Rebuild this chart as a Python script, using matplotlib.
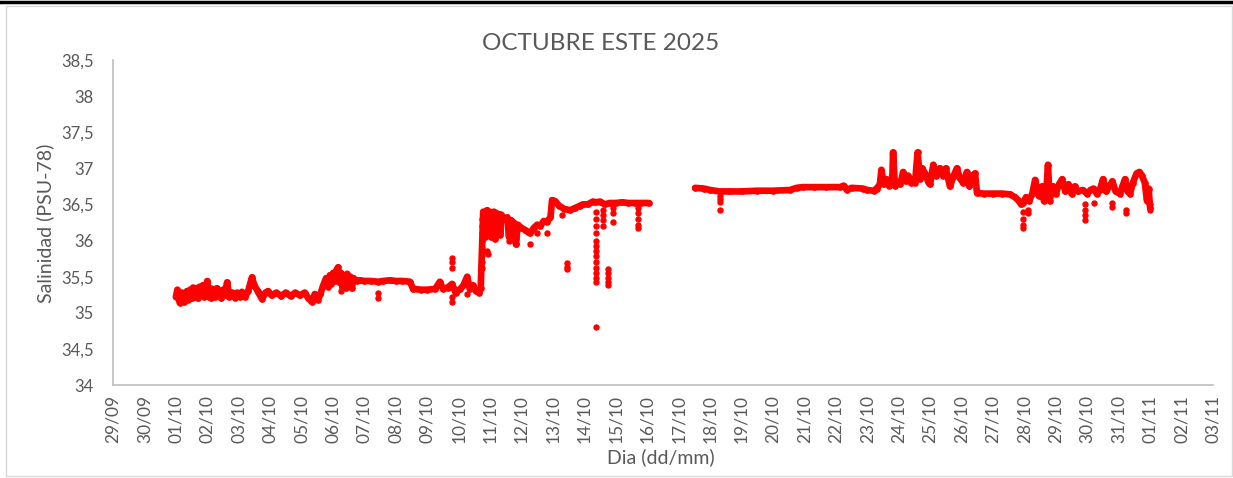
import numpy as np
import pandas as pd
import matplotlib
matplotlib.use("Agg")
import matplotlib.pyplot as plt
import matplotlib.dates as mdates
from matplotlib.ticker import FuncFormatter, MultipleLocator
from matplotlib.lines import Line2D

plt.rcParams['font.family'] = ['Lato', 'DejaVu Sans']

# days counted from 01/10/2025 00:00
inicio = pd.Timestamp('2025-10-01')

# first block of records (01/10 - 16/10)
dia_1 = [0.00, 0.05, 0.12, 0.20, 0.25, 0.30, 0.35, 0.40, 0.45, 0.50, 0.55, 0.60,
         0.65, 0.70, 0.75, 0.80, 0.85, 0.90, 0.95, 1.00, 1.04, 1.08, 1.13, 1.18,
         1.25, 1.30, 1.35, 1.40, 1.45, 1.50, 1.55, 1.63, 1.70, 1.80, 1.88, 1.95,
         2.03, 2.10, 2.20, 2.30, 2.42, 2.50, 2.60, 2.74, 2.85, 2.93, 3.05, 3.20,
         3.35, 3.50, 3.65, 3.80, 3.95, 4.10, 4.20, 4.33, 4.42, 4.52, 4.60, 4.68,
         4.78, 4.85, 4.90, 4.95, 5.00, 5.05, 5.10, 5.16, 5.20, 5.25, 5.30, 5.35,
         5.40, 5.45, 5.50, 5.55, 5.60, 5.65, 5.75, 5.86, 6.00, 6.20, 6.43, 6.60,
         6.80, 7.00, 7.20, 7.45, 7.55, 7.80, 8.00, 8.25, 8.40, 8.50, 8.65, 8.79,
         8.90, 9.05, 9.15, 9.27, 9.35, 9.45, 9.55, 9.65, 9.70, 9.78, 9.85, 9.90,
         9.95, 9.98, 10.02, 10.05, 10.08, 10.12, 10.16, 10.20, 10.24, 10.28, 10.32,
         10.35, 10.45, 10.54, 10.60, 10.65, 10.75, 10.82, 10.88, 10.98, 11.10,
         11.20, 11.27, 11.40, 11.50, 11.60, 11.70, 11.80, 11.92, 11.97, 12.05,
         12.20, 12.35, 12.54, 12.70, 12.85, 12.95, 13.10, 13.27, 13.37, 13.50,
         13.65, 13.80, 14.00, 14.20, 14.40, 14.60, 14.80, 15.05]
sal_1 = [35.22, 35.32, 35.14, 35.28, 35.15, 35.22, 35.30, 35.18, 35.32, 35.20, 35.35, 35.22,
         35.34, 35.20, 35.36, 35.24, 35.38, 35.22, 35.35, 35.44, 35.22, 35.34, 35.20, 35.33,
         35.22, 35.34, 35.24, 35.30, 35.20, 35.32, 35.24, 35.42, 35.22, 35.28, 35.21, 35.28,
         35.22, 35.29, 35.22, 35.30, 35.49, 35.38, 35.30, 35.19, 35.28, 35.30, 35.24, 35.28,
         35.23, 35.28, 35.23, 35.28, 35.24, 35.28, 35.21, 35.15, 35.26, 35.18, 35.26, 35.37,
         35.48, 35.36, 35.52, 35.40, 35.55, 35.44, 35.58, 35.63, 35.42, 35.55, 35.36, 35.52,
         35.34, 35.54, 35.38, 35.50, 35.34, 35.48, 35.44, 35.45, 35.44, 35.44, 35.43, 35.44,
         35.45, 35.44, 35.44, 35.43, 35.33, 35.32, 35.32, 35.33, 35.43, 35.33, 35.35, 35.40,
         35.28, 35.33, 35.38, 35.50, 35.33, 35.38, 35.30, 35.28, 35.35, 36.40, 36.05, 36.42,
         36.10, 36.40, 36.05, 36.38, 36.15, 36.40, 36.02, 36.38, 36.12, 36.36, 36.08,
         36.36, 36.30, 36.32, 36.05, 36.28, 36.25, 35.95, 36.22, 36.18, 36.15,
         36.12, 36.10, 36.18, 36.22, 36.20, 36.27, 36.26, 36.32, 36.56, 36.55,
         36.48, 36.44, 36.42, 36.45, 36.48, 36.50, 36.50, 36.54, 36.53, 36.54,
         36.50, 36.52, 36.52, 36.53, 36.52, 36.52, 36.52, 36.52]

# second block of records (17/10 - 01/11)
dia_2 = [16.52, 16.80, 17.00, 17.30, 17.60, 18.00, 18.50, 19.00, 19.54, 19.75, 19.95,
         20.30, 20.70, 21.13, 21.25, 21.35, 21.50, 21.86, 22.00, 22.20, 22.30, 22.40,
         22.45, 22.52, 22.60, 22.70, 22.80, 22.82, 22.88, 22.95, 23.05, 23.14, 23.22,
         23.30, 23.40, 23.52, 23.60, 23.68, 23.75, 23.85, 23.95, 24.00, 24.10, 24.20,
         24.30, 24.40, 24.50, 24.63, 24.75, 24.85, 24.95, 25.05, 25.17, 25.25, 25.35,
         25.43, 25.49, 25.70, 26.00, 26.30, 26.54, 26.70, 26.80, 26.90, 26.96, 27.05,
         27.15, 27.25, 27.34, 27.45, 27.56, 27.62, 27.70, 27.75, 27.80, 27.90, 28.00,
         28.10, 28.20, 28.30, 28.40, 28.50, 28.60, 28.70, 28.85, 29.00, 29.10, 29.20,
         29.30, 29.40, 29.50, 29.60, 29.70, 29.80, 29.90, 30.04, 30.12, 30.20, 30.28,
         30.36, 30.45, 30.57, 30.66, 30.74, 30.83, 30.90, 30.95, 31.00]
sal_2 = [36.73, 36.72, 36.70, 36.68, 36.68, 36.68, 36.69, 36.69, 36.70, 36.73, 36.74,
         36.74, 36.74, 36.74, 36.76, 36.70, 36.73, 36.72, 36.70, 36.69, 36.72, 36.78,
         36.98, 36.78, 36.85, 36.76, 36.90, 37.22, 36.76, 36.80, 36.78, 36.95, 36.82,
         36.90, 36.80, 36.80, 37.22, 36.85, 37.00, 36.92, 36.80, 36.78, 37.05, 36.90,
         37.00, 36.90, 37.00, 36.75, 36.90, 37.00, 36.86, 36.80, 36.95, 36.75, 36.90,
         36.93, 36.66, 36.65, 36.65, 36.65, 36.64, 36.60, 36.56, 36.50, 36.52, 36.60,
         36.55, 36.65, 36.84, 36.62, 36.75, 36.55, 36.70, 37.05, 36.55, 36.75, 36.65,
         36.78, 36.85, 36.68, 36.78, 36.65, 36.75, 36.68, 36.70, 36.65, 36.70, 36.72,
         36.65, 36.70, 36.85, 36.68, 36.75, 36.82, 36.68, 36.65, 36.75, 36.85, 36.68,
         36.65, 36.80, 36.93, 36.95, 36.90, 36.80, 36.55, 36.72, 36.45]

# isolated readings that drop away from the main trace
dia_pico = [5.25, 6.43, 6.43, 8.79, 8.79, 8.79, 8.79, 8.79, 9.27,
            9.75, 9.75, 9.75, 9.75, 9.75, 9.75, 9.75, 9.75, 9.90, 9.92,
            10.60, 10.82, 10.82, 11.27, 11.50, 11.82, 12.30, 12.44, 12.44, 12.44,
            13.37, 13.37, 13.37, 13.37, 13.37, 13.37, 13.37, 13.37, 13.37, 13.37,
            13.37, 13.37, 13.37, 13.37,
            13.60, 13.60, 13.60, 13.60, 13.75, 13.75, 13.75, 13.75, 13.75,
            13.90, 13.90, 13.90, 14.70, 14.70, 14.70, 14.70, 14.70,
            17.30, 17.30, 17.30, 17.30, 26.95, 26.95, 26.95, 26.95, 27.10, 27.10,
            28.93, 28.93, 28.93, 28.93, 29.20, 29.78, 29.78, 30.22, 30.22, 30.98, 30.98]
sal_pico = [35.30, 35.20, 35.28, 35.76, 35.70, 35.62, 35.15, 35.22, 35.26,
            35.62, 35.70, 35.80, 35.90, 36.00, 36.10, 36.20, 36.30, 35.85, 35.82,
            36.00, 35.95, 36.02, 35.95, 36.10, 36.10, 36.35, 35.69, 35.64, 35.60,
            36.40, 36.30, 36.20, 36.10, 36.00, 35.92, 35.85, 35.78, 35.70, 35.62,
            35.55, 35.48, 35.42, 34.80,
            36.42, 36.35, 36.28, 36.20, 35.60, 35.55, 35.48, 35.42, 35.38,
            36.45, 36.38, 36.26, 36.45, 36.38, 36.30, 36.22, 36.17,
            36.62, 36.57, 36.53, 36.42, 36.40, 36.30, 36.22, 36.18, 36.42, 36.38,
            36.50, 36.42, 36.35, 36.28, 36.52, 36.52, 36.47, 36.42, 36.38, 36.50, 36.42]

t1 = inicio + pd.to_timedelta(dia_1, unit='D')
t2 = inicio + pd.to_timedelta(dia_2, unit='D')
tp = inicio + pd.to_timedelta(dia_pico, unit='D')

gris = '#595959'
rojo = '#ff0000'

fig = plt.figure(figsize=(12.33, 4.78), dpi=100)
ax = fig.add_axes([113/1233, 1 - 385/478, 1100/1233, 325/478])

for t, s in [(t1, sal_1), (t2, sal_2)]:
    ax.plot(t, s, color=rojo, lw=4.8, marker='o', ms=3.8,
            solid_joinstyle='round', solid_capstyle='round')
ax.plot(tp, sal_pico, 'o', color=rojo, ms=3.6, ls='none')

ax.set_xlim(pd.Timestamp('2025-09-29'), pd.Timestamp('2025-11-03'))
ax.set_ylim(34, 38.5)
ax.yaxis.set_major_locator(MultipleLocator(0.5))
ax.yaxis.set_major_formatter(FuncFormatter(lambda v, p: f'{v:g}'.replace('.', ',')))
ax.xaxis.set_major_locator(mdates.DayLocator())
ax.xaxis.set_major_formatter(mdates.DateFormatter('%d/%m'))

ax.tick_params(axis='y', length=0, pad=14, labelsize=12, labelcolor=gris)
ax.tick_params(axis='x', length=0, pad=7, labelsize=12.5, labelcolor=gris,
               labelrotation=90)
for lado in ['top', 'right']:
    ax.spines[lado].set_visible(False)
for lado in ['left', 'bottom']:
    ax.spines[lado].set_color('#bfbfbf')
    ax.spines[lado].set_linewidth(1.2)

fig.text(601/1233, 1 - 43/478, 'OCTUBRE ESTE 2025', ha='center', va='center',
         fontsize=17.5, color=gris)
fig.text(45/1233, 1 - 223/478, 'Salinidad (PSU-78)', ha='center', va='center',
         rotation=90, fontsize=14, color=gris)
fig.text(661/1233, 1 - 457/478, 'Dia (dd/mm)', ha='center', va='center',
         fontsize=14, color=gris)

# chart frame and the sheet border above it
fig.add_artist(plt.Rectangle((6/1233, 2/478), 1226/1233, 470/478, fill=False,
                             edgecolor='#d9d9d9', lw=1, transform=fig.transFigure))
fig.add_artist(Line2D([0, 1], [1 - 2/478, 1 - 2/478], color='black', lw=2.5,
                      transform=fig.transFigure))

fig.savefig('out.png', dpi=100, facecolor='white')
